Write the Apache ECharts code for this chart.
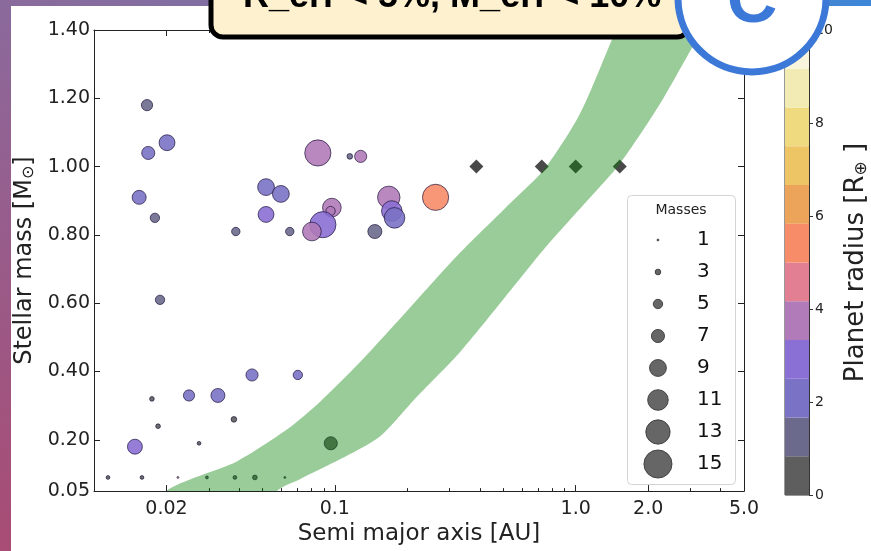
<!DOCTYPE html>
<html>
<head>
<meta charset="utf-8">
<style>
html, body { margin: 0; padding: 0; width: 871px; height: 551px; overflow: hidden; }
body { position: relative; background: linear-gradient(90deg, #8a6a9c 0%, #7674a8 55%, #5a80c0 80%, #3c86d8 100%); }
#strip { position: absolute; left: 0; top: 0; width: 11px; height: 551px; background: linear-gradient(180deg, #8a6a9c, #9a5a88 50%, #a84c74); }
#panel { position: absolute; left: 11px; top: 6px; right: 0; bottom: 0; background: #fff; }
#main { position: absolute; left: 0; top: 0; width: 871px; height: 551px; }
</style>
<script src="https://cdn.jsdelivr.net/npm/echarts@6.0.0/dist/echarts.min.js"></script>
</head>
<body>
<div id="strip"></div>
<div id="panel"></div>
<div id="main"></div>
<script>
// planets: semi major axis [AU], stellar mass [Msun], radius [Re], mass [Me]
var planetA = [0.0166, 0.0168, 0.0201, 0.0154, 0.0179, 0.0188, 0.0388, 0.0650, 0.0518, 0.0597,
	0.0518, 0.0850, 0.1154, 0.128, 0.0972, 0.096, 0.0892, 0.0803, 0.1466, 0.1675,
	0.1724, 0.177, 0.262, 0.0248, 0.0327, 0.0453, 0.0702, 0.0174, 0.01845, 0.01479,
	0.0273, 0.0381, 0.01143, 0.01582, 0.02231, 0.02944, 0.03846, 0.04656, 0.0620, 0.0962];
var planetM = [1.18, 1.04, 1.07, 0.91, 0.85, 0.61, 0.81, 0.81, 0.94, 0.92,
	0.86, 1.04, 1.03, 1.03, 0.88, 0.87, 0.83, 0.81, 0.81, 0.91,
	0.87, 0.85, 0.91, 0.33, 0.33, 0.39, 0.39, 0.32, 0.24, 0.18,
	0.19, 0.26, 0.09, 0.09, 0.09, 0.09, 0.09, 0.09, 0.09, 0.19];
var planetR = [1.2, 2.0, 2.1, 2.0, 1.2, 1.2, 1.2, 1.2, 2.0, 1.8,
	2.9, 3.8, 1.2, 3.8, 3.8, 3.5, 2.9, 3.8, 1.3, 3.8,
	2.9, 2.2, 5.4, 2.0, 2.0, 2.0, 2.0, 0.5, 0.5, 2.9,
	0.5, 0.5, 0.5, 0.5, 4.5, 0.5, 0.5, 0.5, 0.5, 0.5];
var planetMass = [6, 7, 8.5, 7.5, 5, 5, 4.5, 4.5, 9, 9,
	8.5, 14, 3, 6.5, 10, 5, 14, 10, 7.5, 12,
	11, 11, 14, 6, 7.5, 6.5, 5, 2.5, 2.5, 8,
	2, 3, 2, 2, 1, 1.5, 2, 2.5, 1, 7];

// solar system planets
var solarA = [0.387, 0.723, 1.0, 1.524, 5.2];
var solarM = [1.0, 1.0, 1.0, 1.0, 1.0];

// green band edges
var bandUpperA = [0.0136, 0.0199, 0.0392, 0.0632, 0.0867, 0.127, 0.205, 0.330, 0.507, 0.744, 1.039, 1.384, 1.523, 1.79];
var bandUpperM = [-0.1, 0.05, 0.137, 0.230, 0.311, 0.427, 0.587, 0.747, 0.877, 0.994, 1.153, 1.356, 1.43, 1.55];
var bandLowerA = [0.0419, 0.0575, 0.0716, 0.105, 0.154, 0.219, 0.330, 0.507, 0.744, 1.090, 1.523, 2.231, 3.177, 3.60, 4.65];
var bandLowerM = [-0.1, 0.05, 0.085, 0.143, 0.210, 0.326, 0.456, 0.616, 0.761, 0.892, 1.008, 1.182, 1.371, 1.43, 1.55];

var xTickValues = [0.02, 0.1, 1, 2, 5];
var xTickLabels = ['0.02', '0.1', '1.0', '2.0', '5.0'];
var xMinorTicks = [0.03, 0.04, 0.05, 0.06, 0.07, 0.08, 0.09, 0.2, 0.3, 0.4, 0.5, 0.6, 0.7, 0.8, 0.9, 3, 4];
var yTickValues = [0.05, 0.2, 0.4, 0.6, 0.8, 1.0, 1.2, 1.4];
var yTickLabels = ['0.05', '0.20', '0.40', '0.60', '0.80', '1.00', '1.20', '1.40'];

var radiusBreaks = [0, 0.833, 1.667, 2.5, 3.333, 4.167, 5, 5.833, 6.667, 7.5, 8.333, 9.167, 10];
var radiusColors = ['#5e5e5e', '#6c6a8c', '#7a72c4', '#8a6fd4', '#b07bb8', '#e27f92',
	'#f78c68', '#eba45a', '#eec564', '#efda80', '#f2ebb4', '#f8f5dc'];

var legendMasses = [1, 3, 5, 7, 9, 11, 13, 15];

var FONT = 'DejaVu Sans';
var SIZE_PER_MASS = 1.87;

function pickLabel(values, labels, v) {
	for (var i = 0; i < values.length; i++) {
		if (Math.abs(values[i] - v) / values[i] < 1e-6) return labels[i];
	}
	return '';
}

var dom = document.getElementById('main');
var myChart = echarts.init(dom, null, { renderer: 'canvas' });

var planetData = planetA.map(function (a, i) {
	return [a, planetM[i], planetR[i], planetMass[i]];
});
var solarData = solarA.map(function (a, i) { return [a, solarM[i]]; });

var axisColor = '#222';
function logAxis(position, ticks, tickLen, showLine, showLabel) {
	return {
		type: 'log', gridIndex: 0, position: position, logBase: 10,
		min: 0.01, max: 5,
		axisLine: { show: showLine, lineStyle: { color: axisColor, width: 1 } },
		axisTick: { show: true, inside: true, length: tickLen, customValues: ticks, lineStyle: { color: axisColor } },
		axisLabel: {
			show: showLabel, customValues: xTickValues, margin: 8,
			fontFamily: FONT, fontSize: 19, color: axisColor,
			formatter: function (v) { return pickLabel(xTickValues, xTickLabels, v); }
		},
		minorTick: { show: false },
		splitLine: { show: false }
	};
}

var xAxes = [
	logAxis('bottom', xTickValues, 6, true, true),
	logAxis('bottom', xMinorTicks, 3, false, false),
	logAxis('top', xTickValues, 6, true, false),
	logAxis('top', xMinorTicks, 3, false, false),
	{ type: 'category', gridIndex: 1, data: ['cb'], show: false, boundaryGap: true },
	{ type: 'value', gridIndex: 2, min: 0, max: 1, show: false }
];
xAxes[0].name = 'Semi major axis [AU]';
xAxes[0].nameLocation = 'middle';
xAxes[0].nameGap = 27;
xAxes[0].nameTextStyle = { fontFamily: FONT, fontSize: 23, color: axisColor };

var yAxes = [
	{
		type: 'value', gridIndex: 0, position: 'left', min: 0.05, max: 1.4,
		name: '{a|Stellar mass [M}{s|⊙}{a|]}',
		nameLocation: 'middle', nameGap: 57, nameRotate: 90,
		nameTextStyle: {
			rich: {
				a: { fontFamily: FONT, fontSize: 24, color: axisColor },
				s: { fontFamily: FONT, fontSize: 16, color: axisColor, padding: [9, 0, 0, 0] }
			}
		},
		axisLine: { show: true, lineStyle: { color: axisColor, width: 1 } },
		axisTick: { show: true, inside: true, length: 6, customValues: yTickValues, lineStyle: { color: axisColor } },
		axisLabel: {
			customValues: yTickValues, margin: 4,
			fontFamily: FONT, fontSize: 19, color: axisColor,
			formatter: function (v) { return pickLabel(yTickValues, yTickLabels, v); }
		},
		splitLine: { show: false }
	},
	{
		type: 'value', gridIndex: 0, position: 'right', min: 0.05, max: 1.4,
		axisLine: { show: true, lineStyle: { color: axisColor, width: 1 } },
		axisTick: { show: true, inside: true, length: 6, customValues: yTickValues, lineStyle: { color: axisColor } },
		axisLabel: { show: false },
		splitLine: { show: false }
	},
	{
		type: 'value', gridIndex: 1, position: 'right', min: 0, max: 10, interval: 2,
		name: '{a|Planet radius [R}{s|⊕}{a| ]}',
		nameLocation: 'middle', nameGap: 34, nameRotate: 90,
		nameTextStyle: {
			rich: {
				a: { fontFamily: FONT, fontSize: 26, color: axisColor },
				s: { fontFamily: FONT, fontSize: 17, color: axisColor, padding: [10, 0, 0, 0] }
			}
		},
		axisLine: { show: true, lineStyle: { color: '#333', width: 1 } },
		axisTick: { show: true, inside: false, length: 4, lineStyle: { color: '#333' } },
		axisLabel: { margin: 6, fontFamily: FONT, fontSize: 14, color: axisColor },
		splitLine: { show: false }
	},
	{
		type: 'category', gridIndex: 2, inverse: true, show: false,
		data: legendMasses.map(String), boundaryGap: true
	}
];

var colorbarSeries = radiusColors.map(function (c, i) {
	return {
		type: 'bar', xAxisIndex: 4, yAxisIndex: 2, stack: 'cb',
		barWidth: '100%', silent: true,
		itemStyle: { color: c },
		data: [radiusBreaks[i + 1] - radiusBreaks[i]]
	};
});

var option = {
	animation: false,
	backgroundColor: 'transparent',
	textStyle: { fontFamily: FONT },
	grid: [
		{ left: 94, top: 30, width: 650, height: 465 },
		{ left: 785, top: 30, width: 24, height: 465, show: true, borderColor: '#333', borderWidth: 1, backgroundColor: 'transparent' },
		{ left: 628, top: 224, width: 107, height: 256 }
	],
	xAxis: xAxes,
	yAxis: yAxes,
	visualMap: [{
		type: 'piecewise', show: false, seriesIndex: 0, dimension: 2,
		pieces: radiusColors.map(function (c, i) {
			return { gte: radiusBreaks[i], lt: radiusBreaks[i + 1], color: c };
		})
	}],
	graphic: [
		{
			type: 'rect', z: 3,
			shape: { x: 627.5, y: 195.5, width: 108, height: 289, r: 4 },
			style: { fill: 'rgba(255,255,255,0.85)', stroke: '#d4d4d4', lineWidth: 1 }
		},
		{
			type: 'text', z: 4, x: 681, y: 210,
			style: { text: 'Masses', fontFamily: FONT, fontSize: 14, fill: '#222', align: 'center', verticalAlign: 'middle' }
		},
		{
			type: 'rect', z: 100,
			shape: { x: 211, y: -40, width: 478, height: 77, r: 12 },
			style: { fill: '#fef1cf', stroke: '#000', lineWidth: 5 }
		},
		{
			type: 'text', z: 101, x: 243, y: -3,
			style: {
				text: 'R_err < 5%, M_err < 10%', fontFamily: 'Liberation Sans', fontWeight: 'bold',
				fontSize: 36, fill: '#000', align: 'left', verticalAlign: 'middle'
			}
		},
		{
			type: 'circle', z: 102,
			shape: { cx: 752, cy: -2, r: 74 },
			style: { fill: '#fff', stroke: '#3b78d8', lineWidth: 7 }
		},
		{
			type: 'text', z: 103, x: 752, y: 3,
			style: {
				text: 'C', fontFamily: 'Liberation Sans', fontWeight: 'bold',
				fontSize: 70, fill: '#3b78d8', align: 'center', verticalAlign: 'middle'
			}
		}
	],
	series: [
		{
			name: 'planets',
			type: 'scatter', xAxisIndex: 0, yAxisIndex: 0, z: 2,
			data: planetData,
			symbolSize: function (v) { return v[3] * SIZE_PER_MASS; },
			itemStyle: { opacity: 0.9, borderColor: 'rgba(25,15,55,0.75)', borderWidth: 1 },
			clip: true
		},
		{
			name: 'solar system',
			type: 'scatter', xAxisIndex: 0, yAxisIndex: 0, z: 2,
			data: solarData,
			symbol: 'diamond', symbolSize: 14,
			itemStyle: { color: '#1c1c1c' },
			clip: true
		},
		{
			name: 'band',
			type: 'custom', xAxisIndex: 0, yAxisIndex: 0, z: 3,
			clip: true, silent: true,
			data: [0],
			renderItem: function (params, api) {
				var pts = [];
				for (var i = 0; i < bandUpperA.length; i++) {
					pts.push(api.coord([bandUpperA[i], bandUpperM[i]]));
				}
				for (var j = bandLowerA.length - 1; j >= 0; j--) {
					pts.push(api.coord([bandLowerA[j], bandLowerM[j]]));
				}
				return {
					type: 'polygon',
					shape: { points: pts, smooth: 0.25 },
					style: { fill: 'rgba(0,128,0,0.4)' }
				};
			}
		}
	].concat(colorbarSeries).concat([
		{
			name: 'mass legend',
			type: 'scatter', xAxisIndex: 5, yAxisIndex: 3, z: 5,
			data: legendMasses.map(function (m, i) { return [0.28, i, m]; }),
			symbolSize: function (v) { return v[2] * SIZE_PER_MASS; },
			itemStyle: { color: '#555', opacity: 0.9, borderColor: '#3a3a3a', borderWidth: 1 },
			silent: true
		},
		{
			name: 'mass legend labels',
			type: 'scatter', xAxisIndex: 5, yAxisIndex: 3, z: 5,
			data: legendMasses.map(function (m, i) { return [0.645, i, m]; }),
			symbolSize: 1,
			itemStyle: { color: 'rgba(0,0,0,0)' },
			label: {
				show: true, position: 'inside', align: 'left',
				fontFamily: FONT, fontSize: 20, color: '#111', opacity: 1,
				formatter: function (p) { return String(p.value[2]); }
			},
			silent: true
		}
	])
};

if (option && typeof option === 'object') {
	myChart.setOption(option);
}

window.addEventListener('resize', myChart.resize);
</script>
</body>
</html>
